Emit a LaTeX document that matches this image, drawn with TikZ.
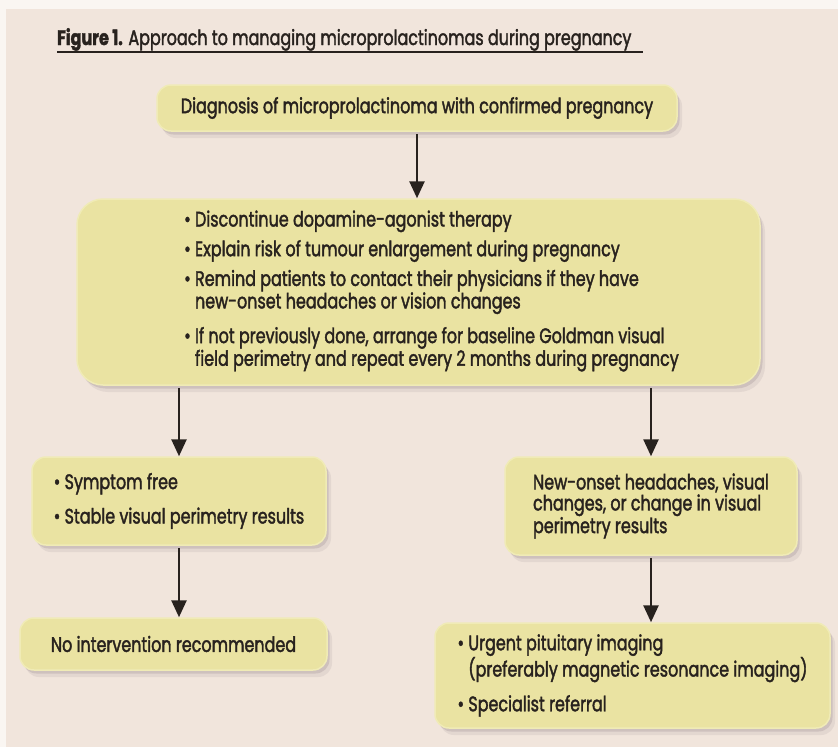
\documentclass[tikz,border=0pt]{standalone}
\usepackage{fontspec}
\setmainfont{Poppins}[FakeStretch=0.76, FakeBold=1.8]
\usetikzlibrary{arrows.meta,shadows}
\definecolor{bgc}{HTML}{F1E5DC}
\definecolor{edgec}{HTML}{FAF6F2}
\definecolor{boxc}{HTML}{EAE3A2}
\definecolor{rimc}{HTML}{F0EBB6}
\definecolor{inkc}{HTML}{28221E}
\definecolor{shadc}{HTML}{A8989C}
\begin{document}
\begin{tikzpicture}[x=1pt,y=-1pt,
  box/.style={fill=boxc, draw=rimc, line width=1.5pt, inner sep=0pt, rounded corners=14pt,
    general shadow={fill=shadc, opacity=0.18, shadow xshift=5pt, shadow yshift=-7pt},
    drop shadow={fill=shadc, opacity=0.35, shadow xshift=2.5pt, shadow yshift=-3.5pt}},
  txt/.style={text=inkc, font=\fontsize{21}{21}\selectfont, inner sep=0pt, align=left},
  arr/.style={draw=inkc, line width=2.6pt, shorten <=2pt, -{Triangle[length=17pt,width=15pt]}}]
\useasboundingbox (0,0) rectangle (838,747);
\fill[edgec] (0,0) rectangle (838,747);
\fill[bgc] (6,9) rectangle (838,747);
% title
\node[txt, anchor=base west] (title) at (57,45)
  {\textbf{Figure 1.} Approach to managing microprolactinomas during pregnancy};
\draw[inkc, line width=2.5pt] (57,52) -- (643,52);
% boxes
\node[box, minimum width=520pt, minimum height=46pt, txt] (b1) at (417,108)
  {Diagnosis of microprolactinoma with confirmed pregnancy};
\node[box, rounded corners=26pt, minimum width=683pt, minimum height=186pt] (b2) at (418.5,292) {};
\node[txt, anchor=west] (t2) at (184,291)
  {• Discontinue dopamine-agonist therapy\\[7pt]
   • Explain risk of tumour enlargement during pregnancy\\[7pt]
   • Remind patients to contact their physicians if they have\\
   \hphantom{• }new-onset headaches or vision changes\\[12pt]
   • If not previously done, arrange for baseline Goldman visual\\
   \hphantom{• }field perimetry and repeat every 2 months during pregnancy};
\node[box, minimum width=294pt, minimum height=88pt, txt] (b3l) at (179,501)
  {• Symptom free\\[12pt]• Stable visual perimetry results};
\node[box, minimum width=292pt, minimum height=98pt, txt] (b3r) at (651,506)
  {New-onset headaches, visual\\changes, or change in visual\\perimetry results};
\node[box, minimum width=307pt, minimum height=52pt, txt] (b4l) at (173.5,644)
  {No intervention recommended};
\node[box, minimum width=395pt, minimum height=105pt, txt] (b4r) at (632.5,675.5)
  {• Urgent pituitary imaging\\
   \hphantom{• }(preferably magnetic resonance imaging)\\[12pt]
   • Specialist referral};
% arrows
\draw[arr] (b1.south) -- (b1.south |- b2.north);
\draw[arr] (b3l.north |- b2.south) -- (b3l.north);
\draw[arr] (b3r.north |- b2.south) -- (b3r.north);
\draw[arr] (b3l.south) -- (b3l.south |- b4l.north);
\draw[arr] (b3r.south) -- (b3r.south |- b4r.north);
\end{tikzpicture}
\end{document}
